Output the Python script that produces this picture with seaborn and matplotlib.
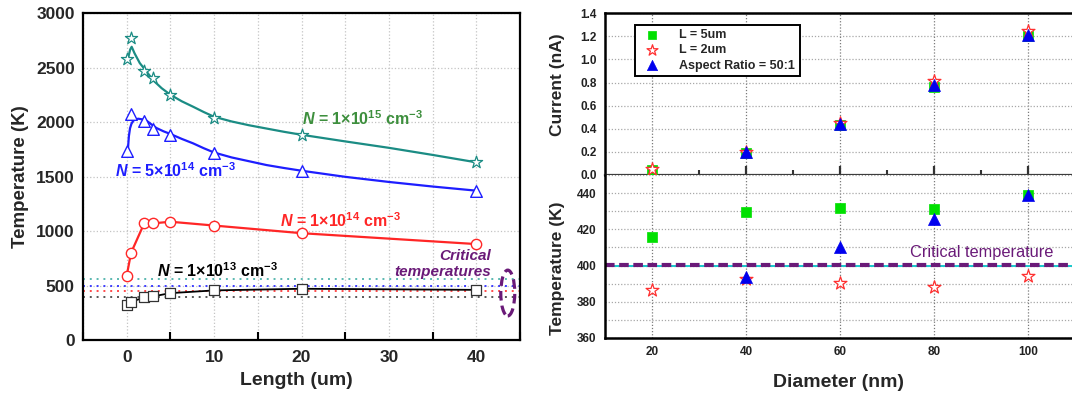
import matplotlib
matplotlib.use("Agg")
import matplotlib.pyplot as plt
import seaborn as sns
from matplotlib.patches import Ellipse
from matplotlib.ticker import MultipleLocator, FormatStrFormatter, FixedLocator

# ---------------- data: temperature vs. nanowire length ----------------
length_um = [0, 0.5, 2, 3, 5, 10, 20, 40]
temp_1e15 = [2580, 2770, 2470, 2400, 2250, 2040, 1880, 1630]
temp_5e14 = [1730, 2075, 2010, 1940, 1885, 1720, 1550, 1370]
temp_1e14 = [590, 800, 1070, 1070, 1085, 1050, 980, 880]
temp_1e13 = [320, 350, 390, 400, 430, 455, 470, 460]

# fitted trend curves for the two highest doping levels
fit_x_1e15 = [0.2, 0.4, 0.57, 0.9, 1.5, 2.3, 3.0, 4.0, 5.0, 6.3, 7.6, 8.8, 10,
              12, 14, 16, 18, 20, 25, 30, 35, 40]
fit_y_1e15 = [2600, 2665, 2690, 2630, 2540, 2460, 2385, 2310, 2250, 2190, 2140,
              2092, 2048, 2005, 1970, 1940, 1910, 1883, 1822, 1763, 1698, 1630]
fit_x_5e14 = [0.15, 0.25, 0.38, 0.55, 0.76, 1.0, 1.33, 1.8, 2.3, 2.8, 3.4, 4.2,
              5.0, 6.3, 7.6, 8.8, 10, 12, 14, 16, 18, 20, 25, 30, 35, 40]
fit_y_5e14 = [1760, 1870, 1942, 1985, 2012, 2025, 2030, 2024, 2010, 1980, 1945,
              1915, 1890, 1845, 1804, 1760, 1720, 1675, 1640, 1605, 1578, 1553,
              1497, 1450, 1408, 1370]

# critical temperature for each doping level (K)
critical_temps = [560, 500, 450, 395]
crit_ellipse_center = (43.6, 431)

# ---------------- data: current / temperature vs. diameter ----------------
diameter_nm = [20, 40, 60, 80, 100]
diameter_ar = [40, 60, 80, 100]
current_L5 = [0.04, 0.19, 0.43, 0.76, 1.20]
current_L2 = [0.05, 0.20, 0.45, 0.81, 1.25]
current_ar = [0.20, 0.44, 0.78, 1.21]
temp_L5 = [415.8, 429.4, 431.7, 431.3, 439.0]
temp_L2 = [386.3, 392.5, 390.5, 388.2, 394.1]
temp_ar = [393.8, 410.0, 425.5, 438.8]
critical_temp_K = 400
critical_ref_K = 400.5

# ---------------- style ----------------
sns.set_style("white")
plt.rcParams["font.family"] = ["Liberation Sans", "DejaVu Sans"]
plt.rcParams["mathtext.fontset"] = "custom"
plt.rcParams["mathtext.rm"] = "Liberation Sans:bold"
plt.rcParams["mathtext.it"] = "Liberation Sans:bold:italic"
plt.rcParams["mathtext.bf"] = "Liberation Sans:bold"

TEAL = "#1b8c84"
GREEN_TXT = "#3d8f3d"
BLUE = "#1e1eff"
RED = "#ff2626"
PURPLE = "#6a1a78"
crit_colors = ["#5ab8b0", "#3c3cff", "#ff4a4a", "#555555"]

W, H = 1072, 398
fig = plt.figure(figsize=(W / 100, H / 100), dpi=100)
fig.patch.set_facecolor("white")

def frac(x0, y0, x1, y1):
    return [x0 / W, (H - y1) / H, (x1 - x0) / W, (y1 - y0) / H]

axL = fig.add_axes(frac(83, 13, 520, 340))
axT = fig.add_axes(frac(605, 13.3, 1075, 175))
axB = fig.add_axes(frac(605, 175, 1075, 338))

# ================= left panel =================
axL.set_xlim(-5, 45)
axL.set_ylim(0, 3000)
axL.xaxis.set_major_locator(MultipleLocator(10))
axL.xaxis.set_minor_locator(MultipleLocator(5))
axL.yaxis.set_major_locator(MultipleLocator(500))
axL.grid(axis="x", which="both", ls=":", color="#c4c4c4", lw=0.9)
axL.grid(axis="y", which="major", ls=":", color="#c4c4c4", lw=0.9)
axL.set_axisbelow(True)

for yv, c in zip(critical_temps, crit_colors):
    axL.axhline(yv, color=c, ls=(0, (1, 2.5)), lw=1.4, zorder=1)

sns.lineplot(x=fit_x_1e15, y=fit_y_1e15, color=TEAL, lw=1.6, sort=False,
             estimator=None, ax=axL, zorder=2)
sns.lineplot(x=fit_x_5e14, y=fit_y_5e14, color=BLUE, lw=1.6, sort=False,
             estimator=None, ax=axL, zorder=2)
sns.lineplot(x=length_um, y=temp_1e14, color=RED, lw=1.6, sort=False,
             estimator=None, ax=axL, zorder=2)
sns.lineplot(x=length_um, y=temp_1e13, color="black", lw=1.3, sort=False,
             estimator=None, ax=axL, zorder=2)

sns.scatterplot(x=length_um, y=temp_1e15, marker="*", s=85, color="white",
                edgecolor=TEAL, linewidth=0.9, ax=axL, zorder=4)
sns.scatterplot(x=length_um, y=temp_5e14, marker="^", s=70, color="white",
                edgecolor=BLUE, linewidth=1.0, ax=axL, zorder=4)
sns.scatterplot(x=length_um, y=temp_1e14, marker="o", s=55, color="white",
                edgecolor=RED, linewidth=1.0, ax=axL, zorder=4)
sns.scatterplot(x=length_um, y=temp_1e13, marker="s", s=45, color="white",
                edgecolor="#333333", linewidth=0.9, ax=axL, zorder=4)

ann_kw = dict(fontsize=11.5, fontweight="bold", ha="left", va="baseline")
axL.text(20.0, 1972, r"$\mathit{N}$ = 1×10$^{15}$ cm$^{-3}$", color=GREEN_TXT, **ann_kw)
axL.text(-1.33, 1498, r"$\mathit{N}$ = 5×10$^{14}$ cm$^{-3}$", color=BLUE, **ann_kw)
axL.text(17.5, 1040, r"$\mathit{N}$ = 1×10$^{14}$ cm$^{-3}$", color=RED, **ann_kw)
axL.text(3.42, 581, r"$\mathit{N}$ = 1×10$^{13}$ cm$^{-3}$", color="black", **ann_kw)
axL.text(41.7, 734, "Critical", color=PURPLE, fontsize=11, fontweight="bold",
         style="italic", ha="right", va="baseline")
axL.text(41.7, 587, "temperatures", color=PURPLE, fontsize=11, fontweight="bold",
         style="italic", ha="right", va="baseline")
axL.add_patch(Ellipse(crit_ellipse_center, width=1.6, height=420, fill=False,
                      edgecolor=PURPLE, lw=2.3, ls=(0, (3, 1.6)), zorder=5,
                      clip_on=False))

for sp in axL.spines.values():
    sp.set_visible(True)
    sp.set_color("black")
    sp.set_linewidth(1.6)
axL.tick_params(axis="x", which="major", direction="inout", length=12, width=1.5,
                color="black", pad=1, labelsize=12.5)
axL.tick_params(axis="x", which="minor", direction="in", length=6, width=1.5,
                color="black", bottom=True)
axL.tick_params(axis="y", which="both", length=0, pad=6, labelsize=12.5)
for lab in axL.get_xticklabels() + axL.get_yticklabels():
    lab.set_fontweight("bold")
axL.set_xlabel("Length (um)", fontsize=14, fontweight="bold")
axL.set_ylabel("Temperature (K)", fontsize=13.5, fontweight="bold")
axL.xaxis.set_label_coords(0.489, -0.125)
axL.xaxis.label.set_va("center")
axL.yaxis.set_label_coords(-0.143, 0.5)
axL.yaxis.label.set_va("center")

# ================= right panels =================
for ax in (axT, axB):
    ax.set_xlim(10, 110)
    ax.xaxis.set_major_locator(MultipleLocator(20))
    ax.xaxis.set_minor_locator(FixedLocator([30, 50, 70, 90]))
    ax.grid(axis="x", which="major", ls=(0, (1, 1.5)), color="#7a7a7a", lw=0.9)
    ax.set_axisbelow(True)
    for sp in ax.spines.values():
        sp.set_visible(True)
        sp.set_color("black")
        sp.set_linewidth(1.8)

# current panel
axT.set_ylim(0, 1.4)
axT.yaxis.set_major_locator(MultipleLocator(0.2))
axT.yaxis.set_major_formatter(FormatStrFormatter("%.1f"))
axT.grid(axis="y", which="major", ls=(0, (1, 1.5)), color="#a8a8a8", lw=0.9)
axT.spines["bottom"].set_color("#3c3c3c")
axT.spines["bottom"].set_linewidth(1.6)
axT.tick_params(axis="x", which="major", direction="inout", length=13, width=1.6,
                color="#333333", labelbottom=False, bottom=True)
axT.tick_params(axis="x", which="minor", direction="inout", length=7, width=1.5,
                color="#333333", bottom=True)
axT.tick_params(axis="y", length=0, pad=6, labelsize=8.5)

sns.scatterplot(x=diameter_nm, y=current_L5, marker="s", s=55, color="#00e000",
                edgecolor="#00e000", linewidth=0.5, ax=axT, zorder=3, label="L = 5um")
sns.scatterplot(x=diameter_nm, y=current_L2, marker="*", s=95, color="white",
                edgecolor="#ff3030", linewidth=0.9, ax=axT, zorder=4, label="L = 2um")
sns.scatterplot(x=diameter_ar, y=current_ar, marker="^", s=75, color="#0000ee",
                edgecolor="#0000ee", linewidth=0.5, ax=axT, zorder=5,
                label="Aspect Ratio = 50:1")
leg = axT.legend(loc="upper left", bbox_to_anchor=(0.064, 0.928), frameon=True,
                 fancybox=False, edgecolor="black", framealpha=1,
                 prop={"weight": "bold", "size": 9}, borderpad=0.35,
                 labelspacing=0.25, handletextpad=1.2, borderaxespad=0,
                 markerscale=0.85)
leg.get_frame().set_linewidth(1.4)
axT.set_ylabel("Current (nA)", fontsize=12.5, fontweight="bold")
axT.yaxis.set_label_coords(-0.102, 0.56)
axT.yaxis.label.set_va("center")
axT.set_xlabel("")

# temperature panel
axB.set_ylim(360, 450)
axB.yaxis.set_major_locator(MultipleLocator(20))
axB.yaxis.set_minor_locator(MultipleLocator(10))
axB.grid(axis="y", which="both", ls=(0, (1, 1.5)), color="#a8a8a8", lw=0.9)
axB.spines["top"].set_visible(False)
axB.tick_params(axis="x", which="both", length=0, pad=6, labelsize=8.5)
axB.tick_params(axis="y", which="both", length=0, pad=6, labelsize=8.5)

axB.axhline(critical_temp_K, color="#18c8cc", lw=1.4, zorder=2)
axB.axhline(critical_ref_K, color=PURPLE, lw=3.0, ls=(0, (2.3, 1.1)), zorder=2)
axB.text(75, 404.7, "Critical temperature", color=PURPLE, fontsize=11.8,
         ha="left", va="baseline")

sns.scatterplot(x=diameter_nm, y=temp_L5, marker="s", s=55, color="#00e000",
                edgecolor="#00e000", linewidth=0.5, ax=axB, zorder=3)
sns.scatterplot(x=diameter_nm, y=temp_L2, marker="*", s=95, color="white",
                edgecolor="#ff3030", linewidth=0.9, ax=axB, zorder=4)
sns.scatterplot(x=diameter_ar, y=temp_ar, marker="^", s=75, color="#0000ee",
                edgecolor="#0000ee", linewidth=0.5, ax=axB, zorder=5)
axB.set_ylabel("Temperature (K)", fontsize=12.5, fontweight="bold")
axB.yaxis.set_label_coords(-0.102, 0.43)
axB.yaxis.label.set_va("center")
axB.set_xlabel("Diameter (nm)", fontsize=14, fontweight="bold")
axB.xaxis.set_label_coords(0.496, -0.276)
axB.xaxis.label.set_va("center")

for ax in (axT, axB):
    for lab in ax.get_xticklabels() + ax.get_yticklabels():
        lab.set_fontweight("bold")
        lab.set_color("#222222")

fig.savefig("out.png", dpi=100, facecolor="white")
